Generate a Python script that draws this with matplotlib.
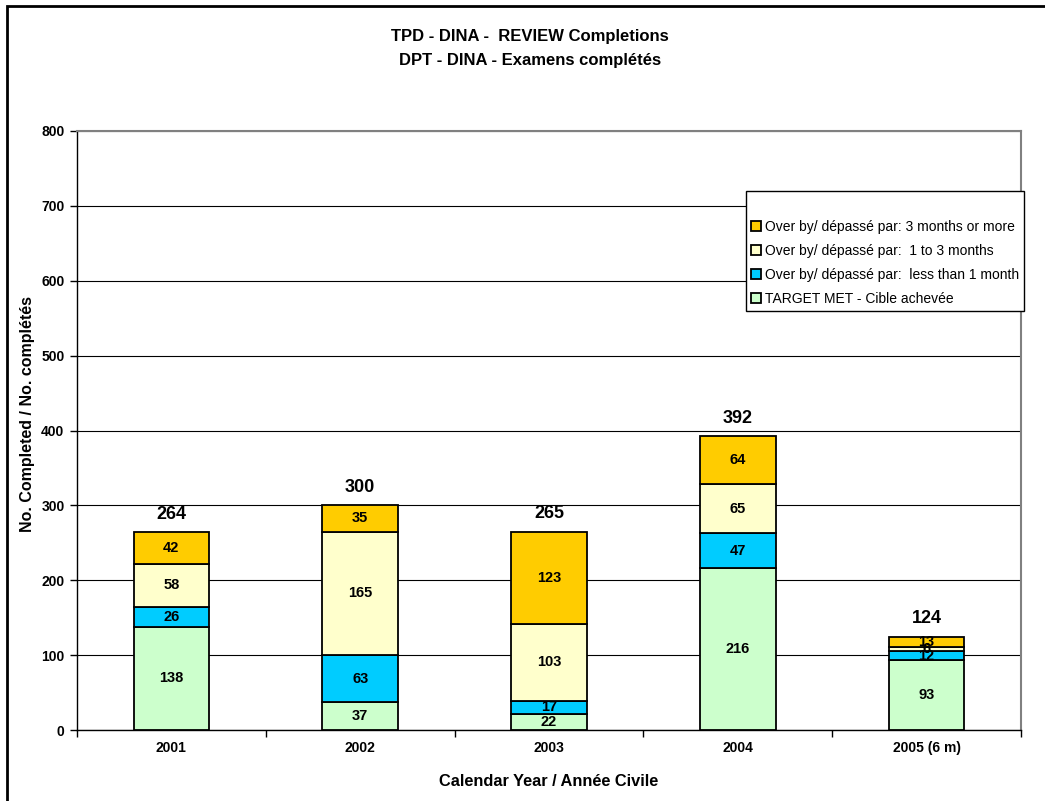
import matplotlib
matplotlib.use("Agg")
import matplotlib.pyplot as plt
import numpy as np
from matplotlib.patches import Rectangle

plt.rcParams['font.family'] = ['Liberation Sans', 'DejaVu Sans']

categories = ["2001", "2002", "2003", "2004", "2005 (6 m)"]
target_met = [138, 37, 22, 216, 93]
less_1m = [26, 63, 17, 47, 12]
one_to_3m = [58, 165, 103, 65, 6]
three_plus = [42, 35, 123, 64, 13]
totals = [264, 300, 265, 392, 124]

series = [
    ("TARGET MET - Cible achevée", target_met, "#CCFFCC"),
    ("Over by/ dépassé par:  less than 1 month", less_1m, "#00CCFF"),
    ("Over by/ dépassé par:  1 to 3 months", one_to_3m, "#FFFFCC"),
    ("Over by/ dépassé par: 3 months or more", three_plus, "#FFCC00"),
]

fig = plt.figure(figsize=(10.45, 8.01), dpi=100)
W, H = 1045, 801
ax = fig.add_axes([77 / W, 1 - 730 / H, (1021 - 77) / W, (730 - 131) / H])

x = np.arange(len(categories))
bottom = np.zeros(len(categories))
handles = []
for name, vals, col in series:
    vals = np.array(vals, dtype=float)
    b = ax.bar(x, vals, 0.4, bottom=bottom, color=col, edgecolor="black",
               linewidth=1.3, label=name, zorder=3)
    handles.append(b)
    for xi, v, bt in zip(x, vals, bottom):
        ax.text(xi, bt + v / 2, f"{int(v)}", ha="center", va="center",
                fontsize=10.5, fontweight="bold", zorder=4)
    bottom += vals

for xi, t in zip(x, totals):
    ax.text(xi, t + 13, f"{t}", ha="center", va="bottom", fontsize=13,
            fontweight="bold")

ax.set_xlim(-0.5, len(categories) - 0.5)
ax.set_ylim(0, 800)
ax.set_yticks(np.arange(0, 801, 100))
ax.set_yticklabels([str(v) for v in range(0, 801, 100)], fontsize=10,
                   fontweight="bold")
ax.set_xticks(x)
ax.set_xticklabels(categories, fontsize=10, fontweight="bold")
ax.set_xticks(np.arange(-0.5, len(categories), 1), minor=True)
ax.tick_params(axis="x", which="major", length=0, pad=8)
ax.tick_params(axis="x", which="minor", length=5, direction="out", width=1)
ax.tick_params(axis="y", length=5, direction="out", width=1, pad=4)

ax.yaxis.grid(True, color="black", linewidth=0.8, zorder=0)
ax.set_axisbelow(True)
for s in ["top", "right"]:
    ax.spines[s].set_color("#808080")
    ax.spines[s].set_linewidth(1.5)
ax.spines["left"].set_linewidth(1)
ax.spines["bottom"].set_linewidth(1)

fig.text(28 / W, 1 - 414 / H, "No. Completed / No. complétés", rotation=90,
         ha="center", va="center", fontsize=11.5, fontweight="bold")
fig.text(549 / W, 1 - 781 / H, "Calendar Year / Année Civile", ha="center",
         va="center", fontsize=11.8, fontweight="bold")

fig.text(530 / W, 1 - 37 / H, "TPD - DINA -  REVIEW Completions", ha="center",
         va="center", fontsize=12, fontweight="bold")
fig.text(530 / W, 1 - 60 / H, "DPT - DINA - Examens complétés", ha="center",
         va="center", fontsize=12, fontweight="bold")

leg_handles = handles[::-1]
leg_labels = [s[0] for s in series][::-1]
leg = fig.legend(leg_handles, leg_labels, loc="upper left",
                 bbox_to_anchor=(746 / W, 1 - 191 / H), fontsize=10,
                 frameon=True, fancybox=False, edgecolor="black",
                 framealpha=1.0, facecolor="white",
                 handlelength=0.7, handleheight=0.7, handletextpad=0.3,
                 borderpad=0.35, labelspacing=0.72, borderaxespad=0,
                 title=" ", title_fontsize=10)
leg.get_frame().set_linewidth(1.0)

fig.patches.append(Rectangle((7 / W, -0.1), 1.2, 1 - 6 / H + 0.1,
                             transform=fig.transFigure, fill=False,
                             edgecolor="black", linewidth=2))

fig.savefig("out.png", dpi=100)
